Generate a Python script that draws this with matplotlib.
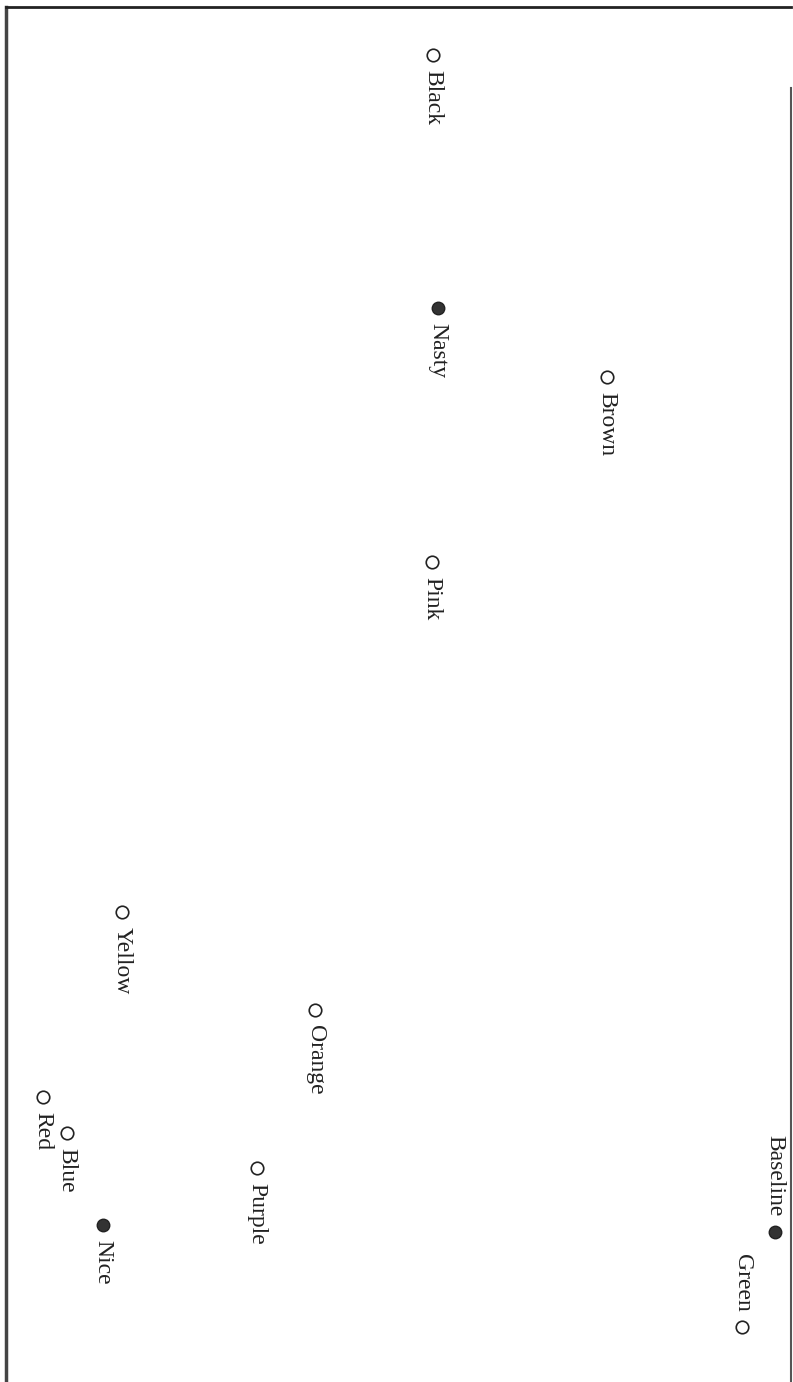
import matplotlib
matplotlib.use("Agg")
import matplotlib.pyplot as plt

plt.rcParams['font.family'] = ['Liberation Serif', 'DejaVu Serif']

labels = ['Black', 'Nasty', 'Brown', 'Pink', 'Yellow', 'Orange',
          'Red', 'Blue', 'Purple', 'Nice', 'Baseline', 'Green']
dim1 = [4.33, 4.38, 6.07, 4.32, 1.22, 3.15, 0.43, 0.67, 2.57, 1.03, 7.75, 7.42]
dim2 = [0.55, 3.08, 3.77, 5.62, 9.12, 10.10, 10.97, 11.33, 11.68, 12.25, 12.32, 13.27]
filled = [False, True, False, False, False, False, False, False, False, True, True, False]
label_before = ['Baseline', 'Green']

fig = plt.figure(figsize=(7.93, 13.82), dpi=100)
ax = fig.add_axes([6/793, 0, 785/793, 1 - 7/1382])
ax.set_xlim(0.06, 7.91)
ax.set_ylim(13.82, 0.07)

for name, x, y, f in zip(labels, dim1, dim2, filled):
    if f:
        ax.plot(x, y, 'o', ms=9, mfc='#333333', mec='#222222', mew=1.0)
    else:
        ax.plot(x, y, 'o', ms=9, mfc='white', mec='#222222', mew=1.2)
    if name in label_before:
        ax.annotate(name, (x, y), xytext=(0, 11), textcoords='offset points',
                    rotation=-90, rotation_mode='anchor', ha='right', va='center',
                    fontsize=17, color='#222222')
    else:
        ax.annotate(name, (x, y), xytext=(0, -11), textcoords='offset points',
                    rotation=-90, rotation_mode='anchor', ha='left', va='center',
                    fontsize=17, color='#222222')

ax.set_xticks([])
ax.set_yticks([])
ax.spines['bottom'].set_visible(False)
ax.spines['left'].set_linewidth(2.5)
ax.spines['left'].set_color('#444444')
ax.spines['top'].set_linewidth(2)
ax.spines['top'].set_color('#222222')
ax.spines['right'].set_linewidth(1.5)
ax.spines['right'].set_color('#555555')
ax.spines['right'].set_bounds(13.82, 0.88)

fig.savefig('out.png', dpi=100)
